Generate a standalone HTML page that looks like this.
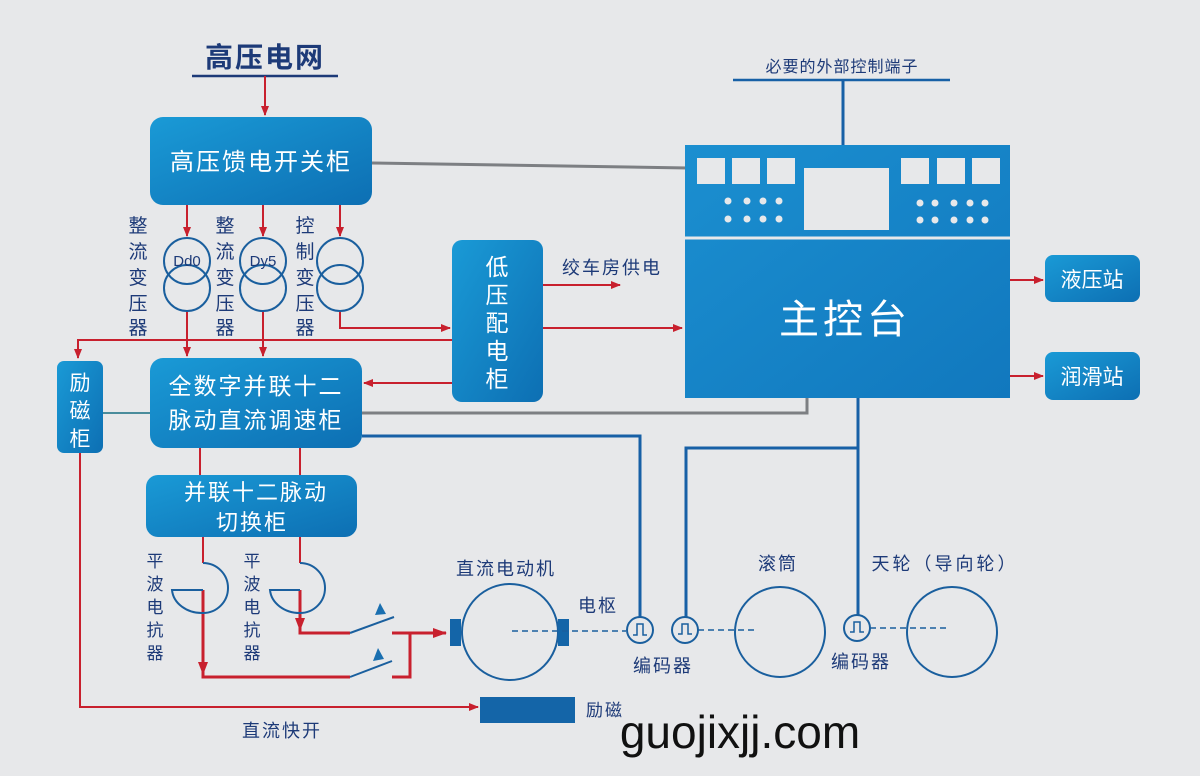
<!DOCTYPE html>
<html><head><meta charset="utf-8"><style>
html,body{margin:0;padding:0;background:#e7e8ea;}
svg{display:block}
text{font-family:"Liberation Sans","Noto Sans CJK SC",sans-serif;}
</style></head><body>
<svg width="1200" height="776" viewBox="0 0 1200 776" xmlns="http://www.w3.org/2000/svg">
<defs>
<linearGradient id="g" x1="0" y1="0" x2="1" y2="1">
<stop offset="0" stop-color="#1a9ad6"/><stop offset="1" stop-color="#0d6fb3"/></linearGradient>
<linearGradient id="g2" x1="0" y1="0" x2="1" y2="1">
<stop offset="0" stop-color="#1b8fd0"/><stop offset="1" stop-color="#1178be"/></linearGradient>
<marker id="ar" markerWidth="10" markerHeight="8" refX="9" refY="4" orient="auto" markerUnits="userSpaceOnUse">
<path d="M0,0 L10,4 L0,8 Z" fill="#c8202e"/></marker>
<marker id="ars" markerWidth="14" markerHeight="10" refX="13" refY="5" orient="auto" markerUnits="userSpaceOnUse">
<path d="M0,0 L14,5 L0,10 Z" fill="#c8202e"/></marker>
</defs>
<rect width="1200" height="776" fill="#e7e8ea"/>

<text x="265" y="67" font-size="28" fill="#1d3a78" text-anchor="middle" letter-spacing="2" font-weight="bold">高压电网</text>
<line x1="192" y1="76" x2="338" y2="76" stroke="#1d3a78" stroke-width="2.5"/>
<g stroke="#c8202e" stroke-width="2" fill="none">
<line x1="265" y1="76" x2="265" y2="115" marker-end="url(#ar)"/>
<line x1="187" y1="205" x2="187" y2="236" marker-end="url(#ar)"/>
<line x1="263" y1="205" x2="263" y2="236" marker-end="url(#ar)"/>
<line x1="340" y1="205" x2="340" y2="236" marker-end="url(#ar)"/>
<line x1="187" y1="310" x2="187" y2="356" marker-end="url(#ar)"/>
<line x1="263" y1="310" x2="263" y2="356" marker-end="url(#ar)"/>
<polyline points="340,310 340,328 450,328" marker-end="url(#ar)"/>
<polyline points="452,340 78,340 78,358" marker-end="url(#ar)"/>
<line x1="543" y1="285" x2="620" y2="285" marker-end="url(#ar)"/>
<line x1="543" y1="328" x2="682" y2="328" marker-end="url(#ar)"/>
<line x1="452" y1="383" x2="364" y2="383" marker-end="url(#ar)"/>
<line x1="1010" y1="280" x2="1043" y2="280" marker-end="url(#ar)"/>
<line x1="1010" y1="376" x2="1043" y2="376" marker-end="url(#ar)"/>
<line x1="200" y1="448" x2="200" y2="475"/>
<line x1="300" y1="448" x2="300" y2="475"/>
<polyline points="80,453 80,707 478,707" marker-end="url(#ar)"/>
<line x1="203" y1="537" x2="203" y2="563"/>
<line x1="300" y1="537" x2="300" y2="563"/>
</g>
<g stroke="#c8202e" stroke-width="3" fill="none">
<polyline points="203,590 203,677 350,677" />
<polyline points="300,590 300,633 350,633" />
<polyline points="392,633 410,633 410,677 392,677"/>
<line x1="410" y1="633" x2="446" y2="633" marker-end="url(#ars)"/>
</g>
<path d="M198,662 L203,675 L208,662 Z" fill="#c8202e"/>
<path d="M295,618 L300,631 L305,618 Z" fill="#c8202e"/>

<g stroke="#7d7f83" stroke-width="3" fill="none">
<line x1="372" y1="163" x2="688" y2="168"/>
<polyline points="362,413 807,413 807,398"/>
</g>
<line x1="103" y1="413" x2="150" y2="413" stroke="#4a8c9c" stroke-width="2"/>

<g stroke="#1760a6" stroke-width="3" fill="none">
<polyline points="362,436 640,436 640,617"/>
<polyline points="858,398 858,615"/>
<polyline points="858,448 686,448 686,617"/>
<line x1="843" y1="145" x2="843" y2="80"/>
</g>
<line x1="733" y1="80" x2="950" y2="80" stroke="#1760a6" stroke-width="2.5"/>
<text x="842" y="72" font-size="16" fill="#1d3a78" text-anchor="middle" letter-spacing="1">必要的外部控制端子</text>

<rect x="150" y="117" width="222" height="88" rx="13" fill="url(#g)"/>
<text x="261" y="170" font-size="24" fill="#fff" text-anchor="middle" letter-spacing="2">高压馈电开关柜</text>

<rect x="452" y="240" width="91" height="162" rx="10" fill="url(#g)"/>
<g font-size="23" fill="#fff" text-anchor="middle">
<text x="497" y="275">低</text><text x="497" y="303">压</text><text x="497" y="331">配</text><text x="497" y="359">电</text><text x="497" y="387">柜</text></g>
<text x="612" y="274" font-size="18" fill="#1d3a78" text-anchor="middle" letter-spacing="2">绞车房供电</text>

<rect x="57" y="361" width="46" height="92" rx="7" fill="url(#g)"/>
<g font-size="21" fill="#fff" text-anchor="middle">
<text x="80" y="390">励</text><text x="80" y="418">磁</text><text x="80" y="446">柜</text></g>

<rect x="150" y="358" width="212" height="90" rx="13" fill="url(#g)"/>
<text x="256" y="394" font-size="23" fill="#fff" text-anchor="middle" letter-spacing="2">全数字并联十二</text>
<text x="256" y="428" font-size="23" fill="#fff" text-anchor="middle" letter-spacing="2">脉动直流调速柜</text>

<rect x="146" y="475" width="211" height="62" rx="12" fill="url(#g)"/>
<text x="256" y="500" font-size="22" fill="#fff" text-anchor="middle" letter-spacing="2">并联十二脉动</text>
<text x="252" y="530" font-size="22" fill="#fff" text-anchor="middle" letter-spacing="2">切换柜</text>

<rect x="685" y="145" width="325" height="253" fill="url(#g2)"/>
<line x1="685" y1="238" x2="1010" y2="238" stroke="#e7e8ea" stroke-width="3"/>
<g fill="#e7e8ea">
<rect x="697" y="158" width="28" height="26"/><rect x="732" y="158" width="28" height="26"/><rect x="767" y="158" width="28" height="26"/>
<rect x="804" y="168" width="85" height="62"/>
<rect x="901" y="158" width="28" height="26"/><rect x="937" y="158" width="28" height="26"/><rect x="972" y="158" width="28" height="26"/>
<circle cx="728" cy="201" r="3.5"/><circle cx="747" cy="201" r="3.5"/><circle cx="763" cy="201" r="3.5"/><circle cx="779" cy="201" r="3.5"/>
<circle cx="728" cy="219" r="3.5"/><circle cx="747" cy="219" r="3.5"/><circle cx="763" cy="219" r="3.5"/><circle cx="779" cy="219" r="3.5"/>
<circle cx="920" cy="203" r="3.5"/><circle cx="935" cy="203" r="3.5"/><circle cx="954" cy="203" r="3.5"/><circle cx="970" cy="203" r="3.5"/><circle cx="985" cy="203" r="3.5"/>
<circle cx="920" cy="220" r="3.5"/><circle cx="935" cy="220" r="3.5"/><circle cx="954" cy="220" r="3.5"/><circle cx="970" cy="220" r="3.5"/><circle cx="985" cy="220" r="3.5"/>
</g>
<text x="845" y="333" font-size="40" fill="#fff" text-anchor="middle" letter-spacing="4">主控台</text>

<rect x="1045" y="255" width="95" height="47" rx="8" fill="url(#g)"/>
<text x="1092" y="287" font-size="21" fill="#fff" text-anchor="middle">液压站</text>
<rect x="1045" y="352" width="95" height="48" rx="8" fill="url(#g)"/>
<text x="1092" y="384" font-size="21" fill="#fff" text-anchor="middle">润滑站</text>

<g stroke="#1a5f9e" stroke-width="2" fill="none">
<circle cx="187" cy="261" r="23"/><circle cx="187" cy="288" r="23"/>
<circle cx="263" cy="261" r="23"/><circle cx="263" cy="288" r="23"/>
<circle cx="340" cy="261" r="23"/><circle cx="340" cy="288" r="23"/>
</g>
<text x="187" y="266" font-size="15" fill="#1d3a78" text-anchor="middle">Dd0</text>
<text x="263" y="266" font-size="15" fill="#1d3a78" text-anchor="middle">Dy5</text>
<g font-size="19" fill="#1d3a78" text-anchor="middle">
<text x="138" y="232">整</text><text x="138" y="258">流</text><text x="138" y="284">变</text><text x="138" y="310">压</text><text x="138" y="334">器</text>
<text x="225" y="232">整</text><text x="225" y="258">流</text><text x="225" y="284">变</text><text x="225" y="310">压</text><text x="225" y="334">器</text>
<text x="305" y="232">控</text><text x="305" y="258">制</text><text x="305" y="284">变</text><text x="305" y="310">压</text><text x="305" y="334">器</text>
</g>

<g stroke="#1a5f9e" stroke-width="2" fill="none">
<path d="M203,563 A25,25 0 0 1 203,613 A30,25 0 0 1 172,590 L203,590"/>
<path d="M300,563 A25,25 0 0 1 300,613 A30,25 0 0 1 270,590 L300,590"/>
</g>
<g font-size="17" fill="#1d3a78" text-anchor="middle">
<text x="155" y="567">平</text><text x="155" y="590">波</text><text x="155" y="613">电</text><text x="155" y="636">抗</text><text x="155" y="659">器</text>
<text x="252" y="567">平</text><text x="252" y="590">波</text><text x="252" y="613">电</text><text x="252" y="636">抗</text><text x="252" y="659">器</text>
</g>
<g stroke="#1a5f9e" stroke-width="2" fill="none">
<line x1="350" y1="633" x2="394" y2="617"/>
<line x1="350" y1="677" x2="392" y2="661"/>
</g>
<path d="M375,615 L380,603 L386,614 Z" fill="#1a6fb0"/>
<path d="M373,661 L378,648 L384,659 Z" fill="#1a6fb0"/>

<circle cx="510" cy="632" r="48" fill="none" stroke="#1a5f9e" stroke-width="2"/>
<rect x="450" y="619" width="11" height="27" fill="#1465a8"/>
<rect x="558" y="619" width="11" height="27" fill="#1465a8"/>
<g stroke="#1a5f9e" stroke-width="1.5" stroke-dasharray="6,4">
<line x1="512" y1="631" x2="626" y2="631"/>
<line x1="698" y1="630" x2="755" y2="630"/>
<line x1="870" y1="628" x2="950" y2="628"/>
</g>
<text x="506" y="575" font-size="18" fill="#1d3a78" text-anchor="middle" letter-spacing="2">直流电动机</text>
<text x="598" y="612" font-size="18" fill="#1d3a78" text-anchor="middle" letter-spacing="2">电枢</text>
<g stroke="#1a5f9e" stroke-width="2" fill="#e7e8ea">
<circle cx="640" cy="630" r="13"/><circle cx="685" cy="630" r="13"/><circle cx="857" cy="628" r="13"/>
</g>
<g stroke="#1a5f9e" stroke-width="1.5" fill="none">
<path d="M633,635 L637,635 L637,624 L643,624 L643,635 L647,635"/>
<path d="M678,634 L682,634 L682,624 L688,624 L688,634 L692,634"/>
<path d="M850,632 L854,632 L854,622 L860,622 L860,632 L864,632"/>
</g>
<circle cx="780" cy="632" r="45" fill="none" stroke="#1a5f9e" stroke-width="2"/>
<circle cx="952" cy="632" r="45" fill="none" stroke="#1a5f9e" stroke-width="2"/>
<text x="663" y="672" font-size="18" fill="#1d3a78" text-anchor="middle" letter-spacing="2">编码器</text>
<text x="861" y="668" font-size="18" fill="#1d3a78" text-anchor="middle" letter-spacing="2">编码器</text>
<text x="778" y="570" font-size="18" fill="#1d3a78" text-anchor="middle" letter-spacing="2">滚筒</text>
<text x="945" y="570" font-size="18" fill="#1d3a78" text-anchor="middle" letter-spacing="3">天轮（导向轮）</text>

<rect x="480" y="697" width="95" height="26" fill="#1465a8"/>
<text x="605" y="716" font-size="17" fill="#1d3a78" text-anchor="middle" letter-spacing="2">励磁</text>
<text x="282" y="737" font-size="18" fill="#1d3a78" text-anchor="middle" letter-spacing="2">直流快开</text>
<text x="740" y="748" font-size="46" fill="#111" text-anchor="middle">guojixjj.com</text>
</svg>
</body></html>
